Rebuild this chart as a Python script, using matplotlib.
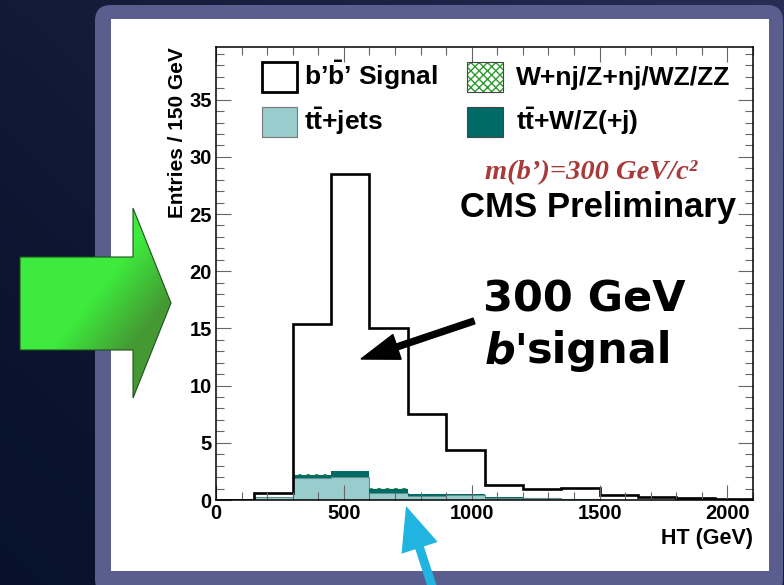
import numpy as np
import matplotlib

matplotlib.use("Agg")
import matplotlib.pyplot as plt
from matplotlib.patches import Rectangle, FancyBboxPatch, Polygon, FancyArrow

# ---- histogram contents (150 GeV bins, 0 - 2100 GeV) ----
bin_edges = np.arange(0, 2101, 150)
signal = [0.0, 0.6, 15.4, 28.5, 15.0, 7.5, 4.4, 1.3, 0.95, 1.05, 0.45, 0.3, 0.15, 0.05]
tt_jets = [0.0, 0.25, 1.9, 2.05, 0.6, 0.35, 0.4, 0.2, 0.15, 0.05, 0.0, 0.0, 0.0, 0.0]
tt_wz = [0.0, 0.05, 0.3, 0.45, 0.4, 0.15, 0.15, 0.02, 0.02, 0.02, 0.01, 0.0, 0.0, 0.0]
w_z_jets = [0.0, 0.0, 0.05, 0.05, 0.06, 0.02, 0.0, 0.0, 0.0, 0.0, 0.0, 0.0, 0.0, 0.0]

# overlined b / t done with mathtext so the bar sits on the letter
legend_labels = ["b\u2019$\\mathbf{\\bar{b}}$\u2019 Signal", "W+nj/Z+nj/WZ/ZZ",
                 "t$\\mathbf{\\bar{t}}$+jets", "t$\\mathbf{\\bar{t}}$+W/Z(+j)"]

TT_JETS_COLOR = "#99cccc"
TT_WZ_COLOR = "#006a66"
WZ_HATCH_COLOR = "#2f9a2f"
SANS = ["Liberation Sans", "DejaVu Sans"]

plt.rcParams["mathtext.fontset"] = "custom"
plt.rcParams["mathtext.bf"] = "Liberation Sans:bold"
plt.rcParams["mathtext.rm"] = "Liberation Sans:bold"

W, H = 784, 585
fig = plt.figure(figsize=(W / 100, H / 100), dpi=100)

# ---- backdrop: dark sky, slate frame, white panel, green arrow ----
bg = fig.add_axes([0, 0, 1, 1], zorder=0)
bg.set_xlim(0, W)
bg.set_ylim(H, 0)
bg.axis("off")

yy, xx = np.mgrid[0:H, 0:W]
t = 0.55 * xx / W + 0.45 * (1 - yy / H)
c0 = np.array([0.03, 0.07, 0.17])
c1 = np.array([0.15, 0.18, 0.33])
sky = c0 + (c1 - c0) * t[..., None] ** 1.5
bg.imshow(sky, extent=(0, W, H, 0), aspect="auto", zorder=0)

bg.add_patch(FancyBboxPatch((95, 5), 688, 590, boxstyle="round,pad=0,rounding_size=16",
                            fc="#5a5e8e", ec="none", zorder=1))
bg.add_patch(Rectangle((111, 19), 658, 552, fc="white", ec="none", zorder=2))

arrow_pts = [(20, 257), (133, 257), (133, 208), (171, 303), (133, 398), (133, 350), (20, 350)]
green_poly = Polygon(arrow_pts, closed=True, fc="none", ec="#1f4f1f", lw=0.8, zorder=4)
bg.add_patch(green_poly)
gy, gx = np.mgrid[0:200, 0:160]
g = np.clip((gx / 160 + gy / 200 - 0.95) / 0.5, 0, 1)
bright = np.array([0.24, 0.92, 0.24])
dark = np.array([0.27, 0.60, 0.20])
grad = bright + (dark - bright) * g[..., None]
im = bg.imshow(grad, extent=(18, 173, 400, 206), aspect="auto", zorder=3)
im.set_clip_path(green_poly)

# ---- the histogram ----
ax = fig.add_axes([216 / W, (H - 500) / H, 537 / W, 453 / H], zorder=1)
ax.set_facecolor("none")

ax.stairs(tt_jets, bin_edges, baseline=0, fill=True, fc=TT_JETS_COLOR, ec="none")
ax.stairs(tt_jets, bin_edges, baseline=None, color="#5f8f8f", lw=0.8)
top1 = np.array(tt_jets) + np.array(tt_wz)
ax.stairs(top1, bin_edges, baseline=tt_jets, fill=True, fc=TT_WZ_COLOR, ec="none")
top2 = top1 + np.array(w_z_jets)
ax.stairs(top2, bin_edges, baseline=top1, fill=True, fc="white", ec=WZ_HATCH_COLOR,
          hatch="xxxx", lw=0)
ax.stairs(signal, bin_edges, baseline=0, color="black", lw=1.9)

ax.set_xlim(0, 2100)
ax.set_ylim(0, 39.6)
ax.set_xticks([0, 500, 1000, 1500, 2000])
ax.set_xticks(np.arange(0, 2101, 100), minor=True)
ax.set_yticks([0, 5, 10, 15, 20, 25, 30, 35])
ax.set_yticks(np.arange(0, 40, 1), minor=True)
ax.tick_params(which="both", direction="in", top=True, right=True,
               color="#666666", width=0.8, labelsize=14.5)
ax.tick_params(which="major", length=11, pad=3)
ax.tick_params(which="minor", length=5.5)
for lab in ax.get_xticklabels() + ax.get_yticklabels():
    lab.set_fontfamily(SANS)
    lab.set_fontweight("bold")
for sp in ax.spines.values():
    sp.set_linewidth(1.1)

ax.set_ylabel("Entries / 150 GeV", loc="top", fontsize=15, fontweight="bold", family=SANS)
ax.yaxis.set_label_coords((187 - 216) / 537, 1.0)
ax.set_xlabel("HT (GeV)", loc="right", fontsize=15.5, fontweight="bold", family=SANS)
ax.xaxis.set_label_coords(1.0, -(528 - 500) / 453)

# ---- overlay: legend, labels, annotation arrows ----
ov = fig.add_axes([0, 0, 1, 1], zorder=2)
ov.set_xlim(0, W)
ov.set_ylim(H, 0)
ov.axis("off")

ov.add_patch(Rectangle((262, 62), 35, 30, fc="white", ec="black", lw=2.0))
ov.add_patch(Rectangle((467, 62), 36, 30, fc="white", ec=WZ_HATCH_COLOR, hatch="xxxx", lw=0))
ov.add_patch(Rectangle((467, 62), 36, 30, fc="none", ec="#444444", lw=0.8))
ov.add_patch(Rectangle((262, 107), 35, 30, fc=TT_JETS_COLOR, ec="#777777", lw=0.8))
ov.add_patch(Rectangle((467, 107), 36, 30, fc=TT_WZ_COLOR, ec="#444444", lw=0.8))
for (x, y), lab in zip([(304, 85), (516, 85), (304, 130), (516, 130)], legend_labels):
    ov.text(x, y, lab, fontsize=19, fontweight="bold", family=SANS, ha="left", va="baseline")

ov.text(485, 173, "m(b\u2019)=300 GeV/c\u00b2", fontsize=20.5, fontweight="bold", style="italic",
        family=["Liberation Serif", "DejaVu Serif"], color="#a83a3a", ha="left", va="center")
ov.text(460, 208, "CMS Preliminary", fontsize=25, fontweight="bold", family=SANS,
        ha="left", va="center")

ov.text(483, 311, "300 GeV", fontsize=31, fontweight="bold", family="DejaVu Sans",
        ha="left", va="baseline")
ov.text(485, 363, "b'", fontsize=31, fontweight="bold", style="italic",
        family="DejaVu Sans", ha="left", va="baseline")
ov.text(527, 363, "signal", fontsize=31, fontweight="bold", family="DejaVu Sans",
        ha="left", va="baseline")

ov.add_patch(FancyArrow(474, 321, -113, 38, width=6, head_width=26, head_length=38,
                        length_includes_head=True, fc="black", ec="black"))
ov.add_patch(FancyArrow(434, 592, -28, -86, width=9, head_width=38, head_length=44,
                        length_includes_head=True, fc="#22b4e0", ec="none"))

fig.savefig("out.png", dpi=100)
